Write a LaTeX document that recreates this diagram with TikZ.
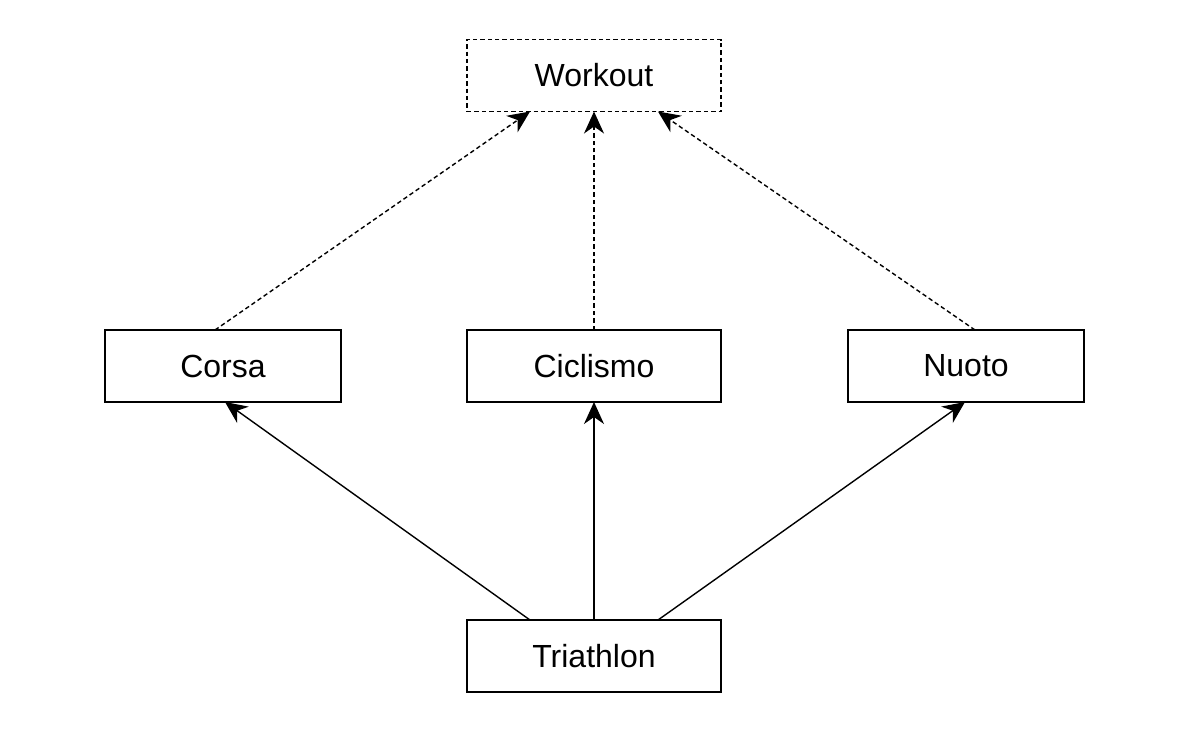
\documentclass[tikz,border=0pt]{standalone}
\usepackage{fontspec}
\setmainfont{Liberation Sans}
\usetikzlibrary{arrows.meta}
\begin{document}
\begin{tikzpicture}[x=0.5pt,y=-0.5pt,
  box/.style={draw,line width=0.7pt,inner sep=0pt,outer sep=0pt,
    minimum width=#1,minimum height=36pt,font=\fontsize{16}{19}\selectfont},
  box/.default=127pt,
  arr/.style={line width=0.7pt,-{Stealth[length=11pt,width=10pt,inset=3.5pt]}},
  dsh/.style={dash pattern=on 2.2pt off 1.5pt}]
\useasboundingbox (0,0) rectangle (1190,736);
\node[box,dsh] (workout) at (594,75.5) {Workout};
\node[box=118pt] (corsa) at (223,366) {Corsa};
\node[box] (ciclismo) at (594,366) {Ciclismo};
\node[box=118pt] (nuoto) at (966,366) {Nuoto};
\node[box] (tri) at (594,656) {Triathlon};
\draw[arr,dsh] ([xshift=-4pt]corsa.north) -- ([xshift=-32pt]workout.south);
\draw[arr,dsh] (ciclismo.north) -- (workout.south);
\draw[arr,dsh] ([xshift=4.5pt]nuoto.north) -- ([xshift=32pt]workout.south);
\draw[arr] ([xshift=-32pt]tri.north) -- ([xshift=1pt]corsa.south);
\draw[arr] (tri.north) -- (ciclismo.south);
\draw[arr] ([xshift=32pt]tri.north) -- ([xshift=-0.5pt]nuoto.south);
\end{tikzpicture}
\end{document}
